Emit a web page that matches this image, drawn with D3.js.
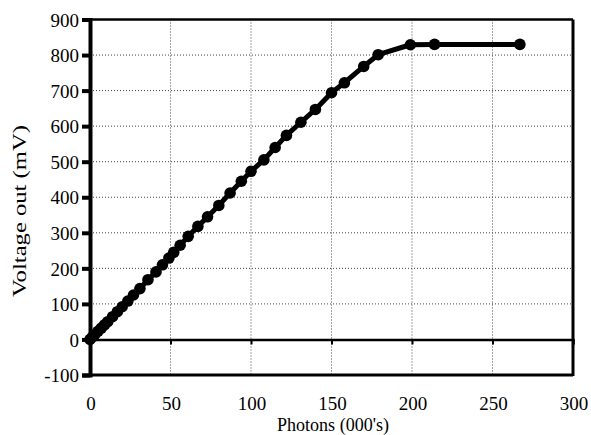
<!DOCTYPE html>
<html>
<head>
<meta charset="utf-8">
<script src="https://cdn.jsdelivr.net/npm/d3@7"></script>
<style>
  body { margin: 0; background: #fff; }
</style>
</head>
<body>
<div id="chart"></div>
<script>
const WIDTH = 591;
const HEIGHT = 435;

// photons (000's) and voltage out (mV)
const photons = [0, 1.5, 3, 5, 7, 9, 11, 14, 17, 20, 23.5, 27, 31, 36, 41, 45, 49, 52, 56, 61, 67, 73, 80, 87, 94, 100, 108, 115, 122, 131, 140, 150, 158, 170, 179, 199, 214, 267];
const voltage = [0, 7, 14, 23, 32, 41, 50, 64, 78, 92, 108, 125, 143, 168, 190, 210, 229, 245, 265, 290, 318, 345, 377, 412, 445, 473, 505, 540, 574, 611, 647, 694, 722, 768, 801, 829, 830, 830];

const X_TICKS = [0, 50, 100, 150, 200, 250, 300];
const Y_TICKS = [-100, 0, 100, 200, 300, 400, 500, 600, 700, 800, 900];

const LEFT = 90, RIGHT = 573, TOP = 19.5, BOTTOM = 375;
const FONT = "'Liberation Serif', 'Times New Roman', serif";

const data = photons.map((p, i) => ({x: p, y: voltage[i]}));

const svg = d3.select("#chart").append("svg")
    .attr("width", WIDTH)
    .attr("height", HEIGHT)
    .style("font-family", FONT);

const xScale = d3.scaleLinear().domain([0, 300]).range([LEFT, RIGHT]);
const yScale = d3.scaleLinear().domain([-100, 900]).range([BOTTOM, TOP]);

// dotted grid
svg.append("g")
   .selectAll("line")
   .data(X_TICKS.slice(1, -1))
   .join("line")
   .attr("x1", d => xScale(d)).attr("x2", d => xScale(d))
   .attr("y1", TOP).attr("y2", BOTTOM)
   .attr("stroke", "#444").attr("stroke-width", 1)
   .attr("stroke-dasharray", "1,2");

svg.append("g")
   .selectAll("line")
   .data(Y_TICKS.filter(d => d !== 0 && d !== -100 && d !== 900))
   .join("line")
   .attr("x1", LEFT).attr("x2", RIGHT)
   .attr("y1", d => yScale(d)).attr("y2", d => yScale(d))
   .attr("stroke", "#444").attr("stroke-width", 1)
   .attr("stroke-dasharray", "1,2");

// frame
svg.append("line").attr("x1", LEFT).attr("x2", RIGHT).attr("y1", TOP).attr("y2", TOP)
   .attr("stroke", "#000").attr("stroke-width", 2.5);
svg.append("line").attr("x1", RIGHT).attr("x2", RIGHT).attr("y1", TOP).attr("y2", BOTTOM + 1)
   .attr("stroke", "#000").attr("stroke-width", 3);
svg.append("line").attr("x1", LEFT).attr("x2", RIGHT).attr("y1", BOTTOM).attr("y2", BOTTOM)
   .attr("stroke", "#000").attr("stroke-width", 3);

// x axis along y = 0
const xAxis = svg.append("g")
   .attr("transform", "translate(0," + yScale(0) + ")")
   .call(d3.axisBottom(xScale).tickValues(X_TICKS).tickSize(5).tickFormat(""));
xAxis.select(".domain").attr("stroke-width", 2.5);
xAxis.selectAll(".tick line").attr("stroke-width", 2);

// x tick labels below the plot
svg.append("g")
   .selectAll("text")
   .data(X_TICKS)
   .join("text")
   .attr("x", d => xScale(d) + 1)
   .attr("y", 410)
   .attr("text-anchor", "middle")
   .style("font-size", "19px")
   .text(d => d);

// y axis
const yAxis = svg.append("g")
   .attr("transform", "translate(" + LEFT + ",0)")
   .call(d3.axisLeft(yScale).tickValues(Y_TICKS).tickSize(8).tickPadding(3)
         .tickFormat(d => String(d)));
yAxis.select(".domain").attr("stroke-width", 4);
yAxis.selectAll(".tick line").attr("stroke-width", 4);
yAxis.selectAll(".tick text")
   .attr("dy", "0.35em")
   .style("font-size", "19px")
   .style("font-family", FONT);

// line + markers
const line = d3.line().x(d => xScale(d.x)).y(d => yScale(d.y));
svg.append("path")
   .datum(data)
   .attr("d", line)
   .attr("fill", "none")
   .attr("stroke", "#000")
   .attr("stroke-width", 5)
   .attr("stroke-linejoin", "round");

svg.append("g")
   .selectAll("circle")
   .data(data)
   .join("circle")
   .attr("cx", d => xScale(d.x))
   .attr("cy", d => yScale(d.y))
   .attr("r", 5.8)
   .attr("fill", "#000");

// axis titles
svg.append("text")
   .attr("x", 333)
   .attr("y", 431)
   .attr("text-anchor", "middle")
   .attr("textLength", 112)
   .attr("lengthAdjust", "spacingAndGlyphs")
   .style("font-size", "18px")
   .text("Photons (000's)");

svg.append("text")
   .attr("transform", "translate(26,211) rotate(-90)")
   .attr("text-anchor", "middle")
   .attr("textLength", 172)
   .attr("lengthAdjust", "spacingAndGlyphs")
   .style("font-size", "19px")
   .text("Voltage out (mV)");
</script>
</body>
</html>
